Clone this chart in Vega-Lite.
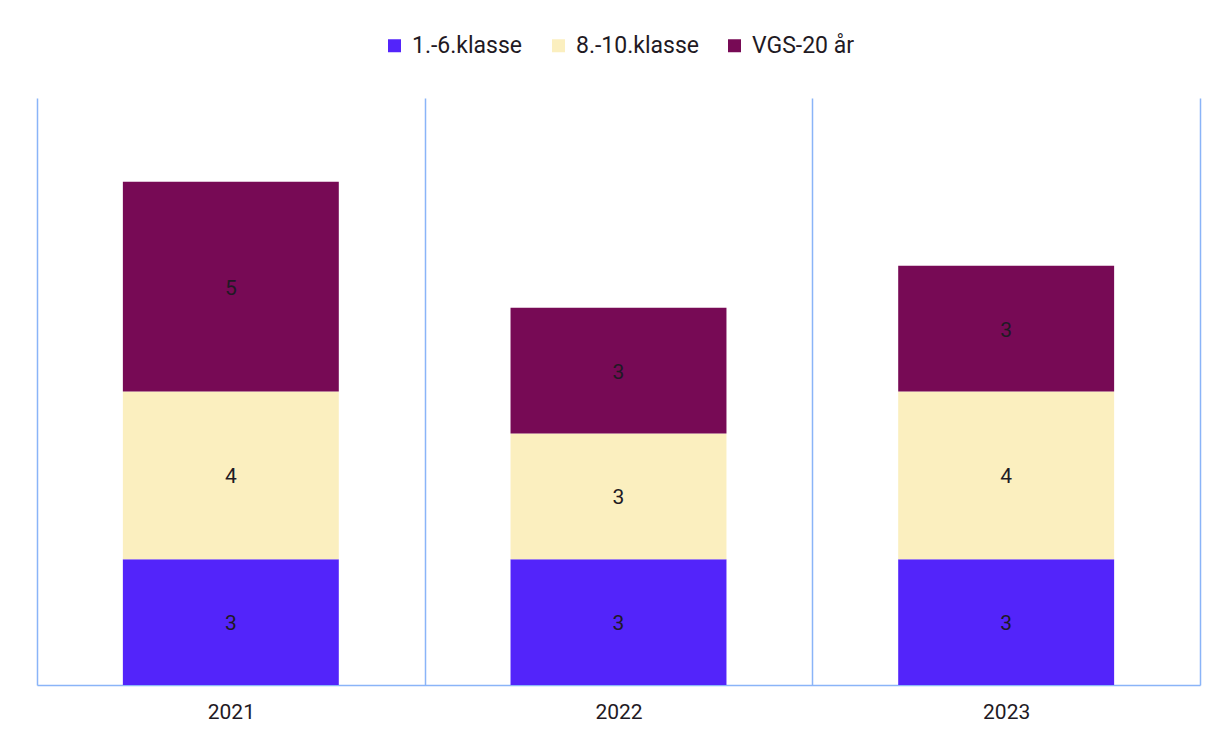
{
  "$schema": "https://vega.github.io/schema/vega-lite/v6.json",
  "width": 1163,
  "height": 587,
  "autosize": {"type": "none"},
  "padding": {"left": 37, "top": 98, "right": 22, "bottom": 51},
  "background": "white",
  "config": {
    "font": "Roboto",
    "view": {"stroke": null},
    "legend": {"layout": {"top": {"anchor": "middle"}}}
  },
  "data": {
    "values": [
      {"year": "2021", "group": "1.-6.klasse", "k": 1, "value": 3},
      {"year": "2021", "group": "8.-10.klasse", "k": 2, "value": 4},
      {"year": "2021", "group": "VGS-20 år", "k": 3, "value": 5},
      {"year": "2022", "group": "1.-6.klasse", "k": 1, "value": 3},
      {"year": "2022", "group": "8.-10.klasse", "k": 2, "value": 3},
      {"year": "2022", "group": "VGS-20 år", "k": 3, "value": 3},
      {"year": "2023", "group": "1.-6.klasse", "k": 1, "value": 3},
      {"year": "2023", "group": "8.-10.klasse", "k": 2, "value": 4},
      {"year": "2023", "group": "VGS-20 år", "k": 3, "value": 3}
    ]
  },
  "encoding": {
    "x": {
      "field": "year",
      "type": "nominal",
      "scale": {"paddingInner": 0, "paddingOuter": 0},
      "axis": {
        "title": null,
        "labelAngle": 0,
        "labelFontSize": 21,
        "labelColor": "#1f1a24",
        "labelPadding": 16,
        "ticks": false,
        "tickBand": "extent",
        "grid": true,
        "gridColor": "#8ab4f8",
        "gridWidth": 1.5,
        "gridOpacity": 1,
        "domainColor": "#8ab4f8",
        "domainWidth": 1.5
      }
    },
    "y": {
      "field": "value",
      "type": "quantitative",
      "stack": "zero",
      "scale": {"domain": [0, 14], "nice": false},
      "axis": null
    },
    "order": {"field": "k", "type": "quantitative"}
  },
  "layer": [
    {
      "mark": {"type": "bar", "width": {"band": 0.557}},
      "encoding": {
        "color": {
          "field": "group",
          "type": "nominal",
          "scale": {
            "domain": ["1.-6.klasse", "8.-10.klasse", "VGS-20 år"],
            "range": ["#5324fa", "#fbefbf", "#770a55"]
          },
          "legend": {
            "title": null,
            "orient": "top",
            "direction": "horizontal",
            "symbolType": "square",
            "symbolSize": 169,
            "symbolStrokeWidth": 0,
            "labelFontSize": 23,
            "labelColor": "#1f1a24",
            "labelOffset": 6,
            "columnPadding": 24,
            "offset": 40
          }
        }
      }
    },
    {
      "mark": {"type": "text", "fontSize": 21, "color": "#1f1a24", "baseline": "middle", "dy": 2},
      "encoding": {
        "y": {"field": "value", "type": "quantitative", "stack": "zero", "bandPosition": 0.5},
        "detail": {"field": "group"},
        "text": {"field": "value", "type": "quantitative"}
      }
    }
  ]
}
